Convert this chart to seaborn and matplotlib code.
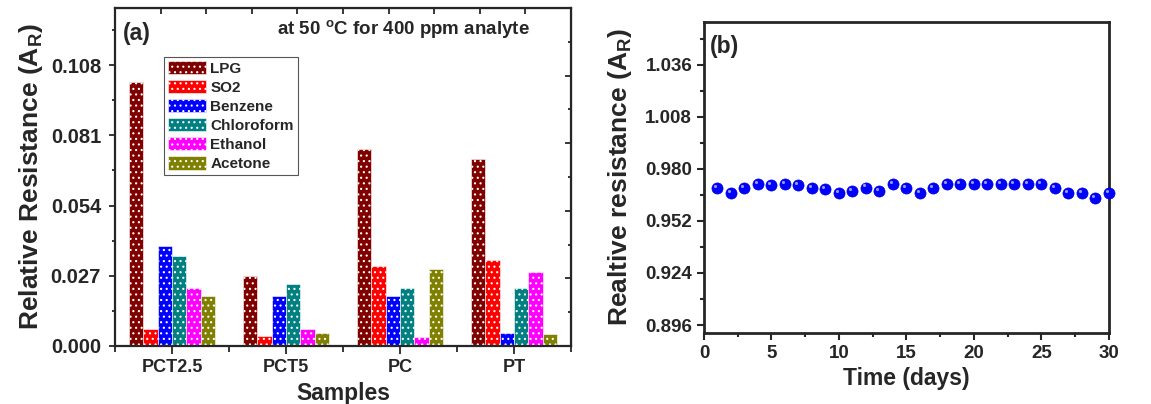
import matplotlib
matplotlib.use("Agg")
from matplotlib import pyplot as plt
from matplotlib.patches import Patch
from matplotlib.ticker import MultipleLocator
from matplotlib.transforms import offset_copy
import numpy as np
import pandas as pd
import seaborn as sns

# panel (a): relative resistance per sample and analyte
samples = ['PCT2.5', 'PCT5', 'PC', 'PT']
gases = ['LPG', 'SO2', 'Benzene', 'Chloroform', 'Ethanol', 'Acetone']
lpg = [0.1014, 0.0270, 0.0759, 0.0721]
so2 = [0.0066, 0.0039, 0.0307, 0.0329]
benzene = [0.0383, 0.0192, 0.0192, 0.0049]
chloroform = [0.0348, 0.0238, 0.0223, 0.0223]
ethanol = [0.0223, 0.0064, 0.0035, 0.0285]
acetone = [0.0192, 0.0049, 0.0296, 0.0046]
gas_colors = ['#800000', '#FF0000', '#0000FF', '#008080', '#FF00FF', '#808000']

# panel (b): stability over 30 days
days = list(range(1, 31))
stability = [0.9696, 0.9671, 0.9696, 0.9717, 0.9713, 0.9717, 0.9713, 0.9696, 0.9689, 0.9671,
             0.9682, 0.9699, 0.9682, 0.9720, 0.9696, 0.9671, 0.9696, 0.9720, 0.9720, 0.9720,
             0.9720, 0.9720, 0.9720, 0.9720, 0.9720, 0.9696, 0.9671, 0.9671, 0.9645, 0.9671]

sns.set_style("ticks")
plt.rcParams['font.family'] = ['Liberation Sans', 'DejaVu Sans']
plt.rcParams['font.weight'] = 'bold'
plt.rcParams['axes.labelweight'] = 'bold'
plt.rcParams['mathtext.default'] = 'regular'
plt.rcParams['hatch.linewidth'] = 0.8

fig = plt.figure(figsize=(11.51, 4.04), dpi=100)
ax1 = fig.add_axes([0.0999, 0.1436, 0.3962, 0.8366])
ax2 = fig.add_axes([0.6116, 0.1757, 0.3519, 0.7698])

# ---- (a) grouped bars
rows = []
for name, vals in zip(gases, [lpg, so2, benzene, chloroform, ethanol, acetone]):
    for s, v in zip(samples, vals):
        rows.append({'Sample': s, 'Gas': name, 'AR': v})
df = pd.DataFrame(rows)

sns.barplot(data=df, x='Sample', y='AR', hue='Gas', order=samples, hue_order=gases,
            palette=dict(zip(gases, gas_colors)), saturation=1, width=0.76,
            legend=False, ax=ax1)
for bar in ax1.patches:
    bar.set_hatch('...')
    bar.set_edgecolor('white')
    bar.set_linewidth(0.4)

ax1.set_xlim(-0.5, 3.5)
ax1.set_ylim(0, 0.13)
ax1.yaxis.set_major_locator(MultipleLocator(0.027))
ax1.yaxis.set_minor_locator(MultipleLocator(0.0135))
ax1.set_yticklabels([f"{t:.3f}" for t in ax1.get_yticks()])
ax1.set_xticks(range(len(samples)))
ax1.set_xticks(np.arange(-0.5, 3.6, 1.0), minor=True)
ax1.tick_params(axis='x', which='major', direction='out', length=6, width=1.3, labelsize=13)
ax1.tick_params(axis='x', which='minor', direction='out', length=4, width=1.3)
ax1.tick_params(axis='y', which='major', direction='out', length=4, width=1.3,
                labelsize=14.5, pad=6)
ax1.tick_params(axis='y', which='minor', direction='out', length=2.5, width=1.3)
for sp in ax1.spines.values():
    sp.set_linewidth(1.6)
    sp.set_visible(True)

top = ax1.secondary_xaxis('top')
top.set_xticks(np.linspace(-0.5, 3.5, 11))
top.tick_params(direction='in', length=4, width=1.3, labeltop=False)
right = ax1.secondary_yaxis('right')
right.yaxis.set_major_locator(MultipleLocator(0.026))
right.yaxis.set_minor_locator(MultipleLocator(0.013))
right.tick_params(which='major', direction='in', length=4.5, width=1.3, labelright=False)
right.tick_params(which='minor', direction='in', length=2.5, width=1.3)

ax1.set_xlabel('Samples', fontsize=16.5, labelpad=4)
ax1.set_ylabel('Relative Resistance (A$_R$)', fontsize=19, labelpad=4)

handles = [Patch(facecolor=c, edgecolor='white', hatch='...', linewidth=0.4, label=g)
           for g, c in zip(gases, gas_colors)]
leg = ax1.legend(handles=handles, loc='upper left', bbox_to_anchor=(0.107, 0.855),
                 borderaxespad=0, fancybox=False, framealpha=1, edgecolor='#555555',
                 prop={'weight': 'bold', 'size': 11}, handlelength=2.5, handleheight=0.95,
                 labelspacing=0.28, handletextpad=0.3, borderpad=0.25)
leg.get_frame().set_linewidth(0.8)

ax1.text(0.018, 0.926, '(a)', transform=ax1.transAxes, fontsize=16.5, fontweight='bold',
         va='center', ha='left')
ax1.text(0.632, 0.938, 'at 50 $^{o}$C for 400 ppm analyte', transform=ax1.transAxes,
         fontsize=13.5, fontweight='bold', va='center', ha='center')

# ---- (b) stability
sns.scatterplot(x=days, y=stability, ax=ax2, color='#0000FF', s=64,
                edgecolor='#0000DD', linewidth=0.5, zorder=3, clip_on=False)
# small highlight to give the spheres some shine
shine = offset_copy(ax2.transData, fig=fig, x=-1.5, y=1.5, units='points')
ax2.scatter(days, stability, s=5, color='#9999FF', linewidths=0, zorder=4,
            transform=shine, clip_on=False)
ax2.set_xlim(0, 30)
ax2.set_ylim(0.8917, 1.0589)
ax2.xaxis.set_major_locator(MultipleLocator(5))
ax2.xaxis.set_minor_locator(MultipleLocator(2.5))
ax2.set_yticks([0.896, 0.924, 0.952, 0.980, 1.008, 1.036])
ax2.yaxis.set_minor_locator(MultipleLocator(0.014))
ax2.set_yticklabels([f"{t:.3f}" for t in ax2.get_yticks()])
ax2.tick_params(which='major', direction='out', length=5, width=1.5, labelsize=13.5)
ax2.tick_params(which='minor', direction='out', length=3, width=1.5)
for sp in ax2.spines.values():
    sp.set_linewidth(2)
    sp.set_visible(True)
ax2.set_xlabel('Time (days)', fontsize=16.5, labelpad=4)
ax2.set_ylabel('Realtive resistance (A$_R$)', fontsize=19, labelpad=8)
ax2.text(0.015, 0.92, '(b)', transform=ax2.transAxes, fontsize=16.5, fontweight='bold',
         va='center', ha='left')

fig.savefig('out.png', dpi=100)
